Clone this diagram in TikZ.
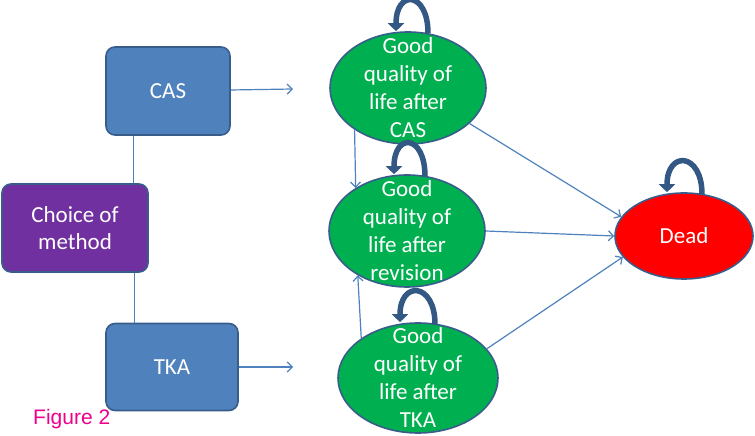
\documentclass[tikz,border=0pt]{standalone}
\usepackage{fontspec}
\setmainfont{Carlito}
\newfontfamily\figfont{Liberation Sans}
\usetikzlibrary{positioning, calc, shapes.geometric, arrows.meta}

\definecolor{boxblue}{RGB}{79,129,189}
\definecolor{edgeblue}{RGB}{56,93,138}
\definecolor{loopblue}{RGB}{52,88,132}
\definecolor{methodpurple}{RGB}{112,48,160}
\definecolor{goodgreen}{RGB}{0,176,80}

\begin{document}
\begin{tikzpicture}[x=1pt, y=1pt,
  box/.style={draw=edgeblue, line width=1.6pt, rounded corners=9pt, text=white,
    font=\fontsize{23}{27}\selectfont, align=center},
  state/.style={ellipse, draw=edgeblue, line width=1.6pt, inner sep=0pt},
  statetext/.style={text=white, font=\fontsize{23}{28}\selectfont, align=center, inner sep=0pt},
  link/.style={draw=boxblue, line width=1.2pt},
  move/.style={link, -{Straight Barb[length=5pt, width=10pt]}},
  selfloop/.style={draw=loopblue, line width=5.5pt, -{Triangle[length=8pt, width=16pt]}}]
   \useasboundingbox (0,0) rectangle (755,436);

   % method boxes
   \node[box, fill=boxblue, minimum width=124pt, minimum height=88pt] (cas) at (168,345) {CAS};
   \node[box, fill=methodpurple, minimum width=146pt, minimum height=88pt] (choice) at (75,208) {Choice of\\method};
   \node[box, fill=boxblue, minimum width=132pt, minimum height=87pt] (tka) at (172,69) {TKA};
   \coordinate (casend) at (293,347);
   \coordinate (tkaend) at (293,69);

   % states
   \node[state, fill=goodgreen, minimum width=156pt, minimum height=112pt] (goodcas) at (408,348) {};
   \node[state, fill=goodgreen, minimum width=156pt, minimum height=112pt] (goodrev) at (407,205) {};
   \node[state, fill=goodgreen, minimum width=160pt, minimum height=110pt] (goodtka) at (418,58) {};
   \node[state, fill=red, minimum width=138pt, minimum height=86pt] (dead) at (684,200) {};

   \draw[selfloop] ([xshift=20pt,yshift=-2pt]goodcas.north) .. controls +(0,42) and +(0,42) .. ([xshift=-12pt]goodcas.north);
   \draw[selfloop] ([xshift=18pt,yshift=-2pt]goodrev.north) .. controls +(0,42) and +(0,42) .. ([xshift=-13pt]goodrev.north);
   \draw[selfloop] ([xshift=17pt,yshift=-2pt]goodtka.north) .. controls +(0,42) and +(0,42) .. ([xshift=-18pt]goodtka.north);
   \draw[selfloop] ([xshift=18pt,yshift=-2pt]dead.north) .. controls +(0,42) and +(0,42) .. ([xshift=-17pt]dead.north);

   \node[statetext] (goodcas-t) at (goodcas) {Good\\quality of\\life after\\CAS};
   \node[statetext] (goodrev-t) at (goodrev) {Good\\quality of\\life after\\revision};
   \node[statetext] (goodtka-t) at (goodtka) {Good\\quality of\\life after\\TKA};
   \node[statetext] (dead-t) at (dead) {Dead};

   \draw[link] ([xshift=28pt]cas.south west) -- ([xshift=28pt]cas.south west |- choice.north);
   \draw[link] ([xshift=29pt]tka.north west) -- ([xshift=29pt]tka.north west |- choice.south);

   \path (cas) edge[move] (casend)
         (tka) edge[move] (tkaend)
         (goodcas.218) edge[move] (goodrev.140)
         (goodtka.145) edge[move] (goodrev.222)
         (goodcas.330) edge[move] (dead.163)
         (goodrev.east) edge[move] (dead.west)
         (goodtka.23) edge[move] (dead.199);

   \node[anchor=base west, text=magenta, font=\figfont\fontsize{21}{24}\selectfont, inner sep=0pt] (figlabel) at (33,11) {Figure 2};
\end{tikzpicture}
\end{document}
